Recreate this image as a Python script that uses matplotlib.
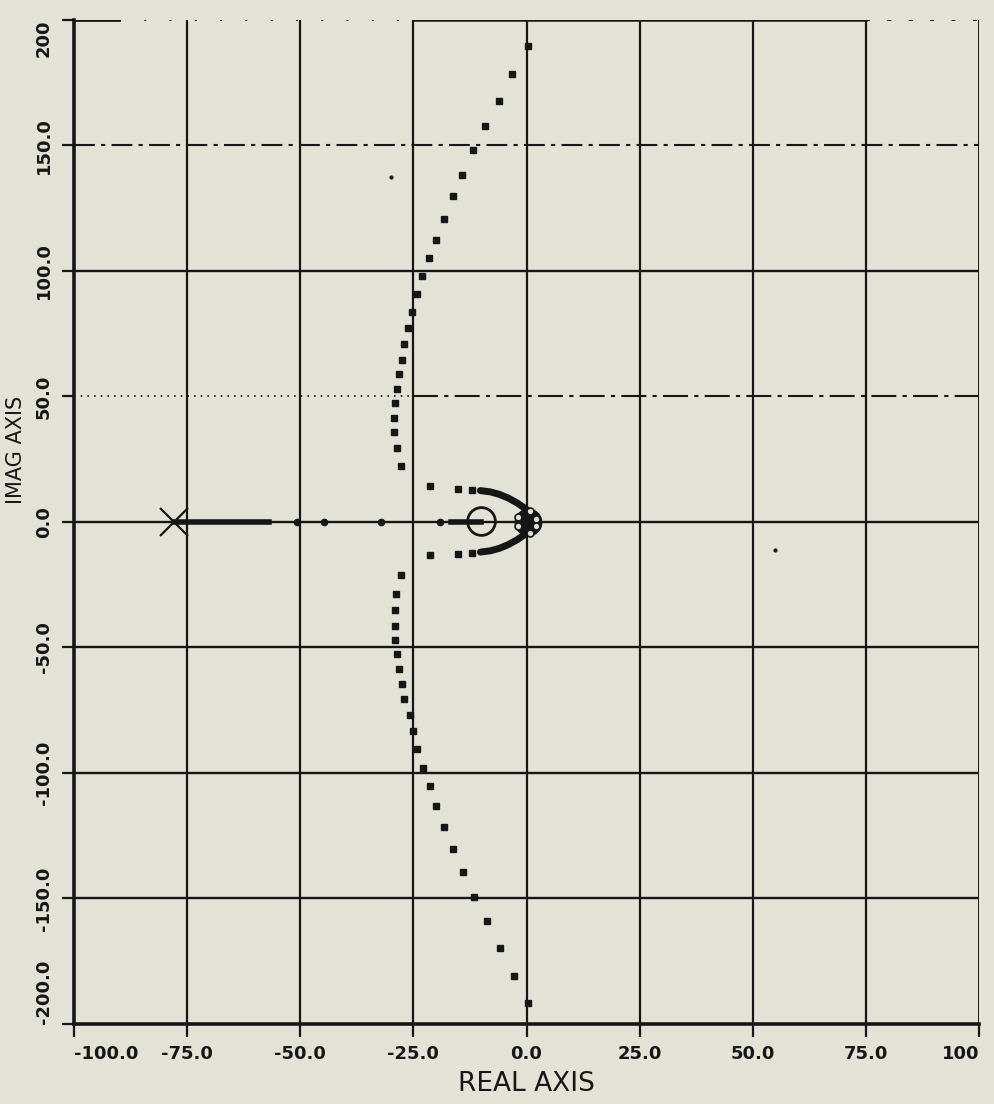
import numpy as np
import matplotlib.pyplot as plt

# root locus points (real part, imag part)
upper_re = [0.4, -3.1, -6.1, -9.2, -11.9, -14.2, -16.3, -18.3, -20.0, -21.5, -23.0, -24.2,
            -25.2, -26.1, -27.1, -27.6, -28.2, -28.6, -29.1, -29.3, -29.3, -28.7, -27.7]
upper_im = [189.6, 178.4, 167.7, 157.6, 148.0, 138.4, 129.7, 120.9, 112.5, 105.2, 98.0, 90.7,
            83.7, 77.1, 70.9, 64.7, 58.9, 53.1, 47.5, 41.6, 35.7, 29.6, 22.4]
lower_re = [-27.7, -28.8, -29.1, -29.0, -29.0, -28.6, -28.1, -27.6, -27.1, -25.8, -25.1, -24.1,
            -22.8, -21.4, -20.0, -18.3, -16.2, -14.1, -11.6, -8.8, -5.9, -2.7, 0.4]
lower_im = [-21.3, -28.7, -34.9, -41.3, -46.9, -52.7, -58.4, -64.7, -70.4, -77.1, -83.3, -90.4,
            -98.0, -105.3, -113.3, -121.6, -130.3, -139.6, -149.3, -159.1, -169.6, -180.7, -191.7]

inner_re = [-21.3, -15.2, -12.1]
inner_up_im = [14.4, 13.1, 12.7]
inner_lo_im = [-13.3, -12.7, -12.4]
bend_re = [-10.2, -8.0, -6.0, -4.0, -2.0, 0.0]
bend_up_im = [12.5, 12.0, 11.0, 9.5, 7.5, 5.0]
bend_lo_im = [-12.0, -11.5, -10.5, -9.0, -7.0, -4.5]

axis_dots = [-50.7, -44.7, -32.1, -19.1]
axis_runs = [(-78.0, -57.0), (-16.6, -10.0)]

pole_re, pole_im = -78.0, 0.0
zero_re, zero_im = -10.0, 0.5
origin_re = [-1.9, 0.8, 2.1, 2.1, 0.8, -1.9]
origin_im = [2.0, 4.3, 1.3, -1.6, -4.3, -1.6]
stray_re = [-29.9, 54.9]
stray_im = [137.3, -11.2]

xticks = [-100, -75, -50, -25, 0, 25, 50, 75, 100]
xlabels = ['-100.0', '-75.0', '-50.0', '-25.0', '0.0', '25.0', '50.0', '75.0', '100']
yticks = [-200, -150, -100, -50, 0, 50, 100, 150, 200]
ylabels = ['-200.0', '-150.0', '-100.0', '-50.0', '0.0', '50.0', '100.0', '150.0', '200']

ink = '#161616'
paper = '#e2e2d6'

fig = plt.figure(figsize=(9.94, 11.04), dpi=100, facecolor=paper)
ax = fig.add_axes([0.0744, 0.0725, 0.9106, 0.9094], facecolor=paper)
ax.set_xlim(-100, 100)
ax.set_ylim(-200, 200)

# grid, drawn like the plotter did it
for x in xticks[1:-1]:
    ax.axvline(x, color=ink, lw=1.6, zorder=1)
ax.axvline(100, color=ink, lw=1.4, zorder=1)
for y in yticks[1:-1]:
    if y == 150:
        ax.axhline(y, color=ink, lw=1.5, ls=(0, (10, 3, 2, 3)), zorder=1)
    elif y == 50:
        ax.axhline(y, xmax=0.375, color=ink, lw=1.2, ls=(0, (1, 3)), zorder=1)
        ax.axhline(y, xmin=0.375, color=ink, lw=1.5, ls=(0, (12, 3, 2, 3)), zorder=1)
    else:
        ax.axhline(y, color=ink, lw=1.7, zorder=1)
ax.axhline(200, xmax=0.05, color=ink, lw=2.0, zorder=1)
ax.axhline(200, xmin=0.05, xmax=0.375, color=ink, lw=1.4, ls=(0, (1, 12)), zorder=1)
ax.axhline(200, xmin=0.375, xmax=0.875, color=ink, lw=1.8, zorder=1)
ax.axhline(200, xmin=0.875, color=ink, lw=1.4, ls=(0, (2, 9)), zorder=1)

# locus
ax.plot(upper_re, upper_im, 's', color=ink, ms=4.4, zorder=3)
ax.plot(lower_re, lower_im, 's', color=ink, ms=4.4, zorder=3)
ax.plot(inner_re, inner_up_im, 's', color=ink, ms=4.4, zorder=3)
ax.plot(inner_re, inner_lo_im, 's', color=ink, ms=4.4, zorder=3)
ax.plot(bend_re, bend_up_im, '-', color=ink, lw=5, solid_capstyle='round', zorder=3)
ax.plot(bend_re, bend_lo_im, '-', color=ink, lw=5, solid_capstyle='round', zorder=3)
ax.plot(axis_dots, np.zeros(len(axis_dots)), 'o', color=ink, ms=4.5, zorder=3)
for a, b in axis_runs:
    ax.plot([a, b], [0, 0], '-', color=ink, lw=4, zorder=3)
ax.plot(stray_re, stray_im, '.', color=ink, ms=4, zorder=3)

# pole, zero and the cluster at the origin
ax.plot(pole_re, pole_im, 'x', color=ink, ms=20, mew=1.6, zorder=4)
ax.plot(zero_re, zero_im, 'o', mfc='none', mec=ink, ms=20, mew=2.0, zorder=4)
ax.plot(0.3, 0, 'o', color=ink, ms=19, zorder=4)
ax.plot(origin_re, origin_im, 'o', mfc=paper, mec=ink, ms=5, mew=1.2, zorder=5)

for side in ['left', 'bottom']:
    ax.spines[side].set_linewidth(2.6)
    ax.spines[side].set_color(ink)
for side in ['top', 'right']:
    ax.spines[side].set_visible(False)

ax.set_xticks(xticks)
ax.set_yticks(yticks)
ax.set_xticklabels(xlabels, weight='bold', fontsize=13, color=ink)
ax.set_yticklabels(ylabels, weight='bold', fontsize=13, color=ink,
                   rotation=90, va='center')
ax.get_xticklabels()[0].set_ha('left')
ax.get_xticklabels()[-1].set_ha('right')
ax.get_yticklabels()[0].set_va('bottom')
ax.get_yticklabels()[-1].set_va('top')
ax.tick_params(direction='out', length=9, width=1.6, color=ink, pad=6)

ax.set_xlabel('REAL AXIS', fontsize=19, color=ink, labelpad=6)
ax.set_ylabel('IMAG AXIS', fontsize=15, color=ink)
ax.yaxis.set_label_coords(-0.053, 0.572)

fig.savefig('out.png', dpi=100, facecolor=paper)
